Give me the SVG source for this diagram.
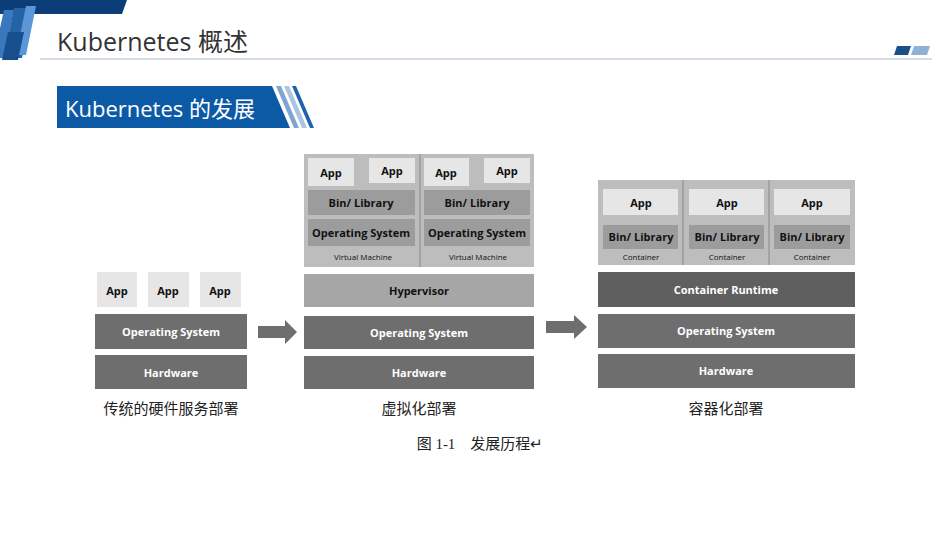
<svg xmlns="http://www.w3.org/2000/svg" width="950" height="535" viewBox="0 0 950 535">
<style>
.b{font-family:"Open Sans","Liberation Sans",sans-serif;font-weight:bold;font-size:11px;fill:#111;text-anchor:middle}
.w{fill:#fff}
.s{font-family:"Open Sans","Liberation Sans",sans-serif;font-size:8px;fill:#111;text-anchor:middle}
.c{font-family:"Liberation Serif","Noto Sans CJK SC",serif;font-size:15px;fill:#222;text-anchor:middle}
.app{fill:#e6e6e6}
.lib{fill:#9c9c9c}
.dk{fill:#6e6e6e}
</style>
<rect width="950" height="535" fill="#fff"/>
<g id="header">
<polygon points="0,0 127,0 122,14 0,14" fill="#0b3e78"/>
<polygon points="4,10 14,10 4,58 0,58 0,28" fill="#3a78bd"/>
<polygon points="14,8 32,8 22,58 4,58" fill="#2563a8"/>
<polygon points="26,6 36,6 26,55 16,55" fill="#5b97d6"/>
<polygon points="8,32 24,32 18,60 2,60" fill="#164e8e"/>
<text x="57" y="51" font-family="'Open Sans','Liberation Sans','Noto Sans CJK SC',sans-serif" font-size="25" fill="#333">Kubernetes 概述</text>
<line x1="40" y1="59" x2="932" y2="59" stroke="#a9bcd0" stroke-width="1.2"/>
<polygon points="897,46 911,46 908,55 894,55" fill="#1b4f8c"/>
<polygon points="914,46 930,46 927,55 911,55" fill="#8fb1d6"/>
</g>
<g id="subtitle">
<polygon points="57,86 272,86 290,128 57,128" fill="#0c5aa6"/>
<polygon points="276,86 281,86 299,128 294,128" fill="#7fa6d1"/>
<polygon points="284,86 289,86 307,128 302,128" fill="#aac4e2"/>
<polygon points="292,86 296,86 314,128 310,128" fill="#1e63ad"/>
<text x="65" y="117" font-family="'Open Sans','Liberation Sans','Noto Sans CJK SC',sans-serif" font-size="22" fill="#fff">Kubernetes 的发展</text>
</g>
<g id="traditional">
<rect x="97" y="272" width="40" height="35" class="app"/><text x="117" y="295" class="b">App</text>
<rect x="148" y="272" width="41" height="35" class="app"/><text x="168" y="295" class="b">App</text>
<rect x="200" y="272" width="41" height="35" class="app"/><text x="220" y="295" class="b">App</text>
<rect x="95" y="314" width="152" height="35" class="dk"/><text x="171" y="336" class="b w">Operating System</text>
<rect x="95" y="355" width="152" height="34" class="dk"/><text x="171" y="377" class="b w">Hardware</text>
<text x="171" y="414" class="c">传统的硬件服务部署</text>
</g>
<g id="virtual">
<rect x="304" y="154" width="230" height="113" fill="#bdbdbd"/>
<line x1="420" y1="154" x2="420" y2="267" stroke="#888"/>
<rect x="308" y="158" width="46" height="28" class="app"/><text x="331" y="177" class="b">App</text>
<rect x="369" y="158" width="46" height="25" class="app"/><text x="392" y="175" class="b">App</text>
<rect x="424" y="158" width="45" height="28" class="app"/><text x="446" y="177" class="b">App</text>
<rect x="484" y="158" width="46" height="25" class="app"/><text x="507" y="175" class="b">App</text>
<rect x="308" y="190" width="107" height="25" class="lib"/><text x="361" y="207" class="b">Bin/ Library</text>
<rect x="424" y="190" width="106" height="25" class="lib"/><text x="477" y="207" class="b">Bin/ Library</text>
<rect x="308" y="219" width="107" height="27" class="lib"/><text x="361" y="237" class="b">Operating System</text>
<rect x="424" y="219" width="106" height="27" class="lib"/><text x="477" y="237" class="b">Operating System</text>
<text x="363" y="260" class="s">Virtual Machine</text>
<text x="478" y="260" class="s">Virtual Machine</text>
<rect x="304" y="274" width="230" height="33" fill="#a6a6a6"/><text x="419" y="295" class="b">Hypervisor</text>
<rect x="304" y="316" width="230" height="33" class="dk"/><text x="419" y="337" class="b w">Operating System</text>
<rect x="304" y="356" width="230" height="33" class="dk"/><text x="419" y="377" class="b w">Hardware</text>
<text x="419" y="414" class="c">虚拟化部署</text>
</g>
<g id="container">
<rect x="598" y="180" width="257" height="85" fill="#bdbdbd"/>
<line x1="683" y1="180" x2="683" y2="265" stroke="#888"/>
<line x1="769" y1="180" x2="769" y2="265" stroke="#888"/>
<rect x="603" y="189" width="75" height="26" class="app"/><text x="641" y="207" class="b">App</text>
<rect x="689" y="189" width="75" height="26" class="app"/><text x="727" y="207" class="b">App</text>
<rect x="774" y="189" width="76" height="26" class="app"/><text x="812" y="207" class="b">App</text>
<rect x="603" y="225" width="75" height="24" class="lib"/><text x="641" y="241" class="b">Bin/ Library</text>
<rect x="689" y="225" width="75" height="24" class="lib"/><text x="727" y="241" class="b">Bin/ Library</text>
<rect x="774" y="225" width="76" height="24" class="lib"/><text x="812" y="241" class="b">Bin/ Library</text>
<text x="641" y="260" class="s">Container</text>
<text x="727" y="260" class="s">Container</text>
<text x="812" y="260" class="s">Container</text>
<rect x="598" y="272" width="257" height="35" fill="#5f5f5f"/><text x="726" y="294" class="b w">Container Runtime</text>
<rect x="598" y="314" width="257" height="34" class="dk"/><text x="726" y="335" class="b w">Operating System</text>
<rect x="598" y="354" width="257" height="34" class="dk"/><text x="726" y="375" class="b w">Hardware</text>
<text x="726" y="414" class="c">容器化部署</text>
</g>
<g id="connectors">
<polygon points="258,326 285,326 285,320 297,332 285,344 285,338 258,338" fill="#6e6e6e"/>
<polygon points="546,321 574,321 574,315 587,327 574,339 574,333 546,333" fill="#6e6e6e"/>
</g>
<text x="480" y="449" class="c">图 1-1　发展历程↵</text>
</svg>
